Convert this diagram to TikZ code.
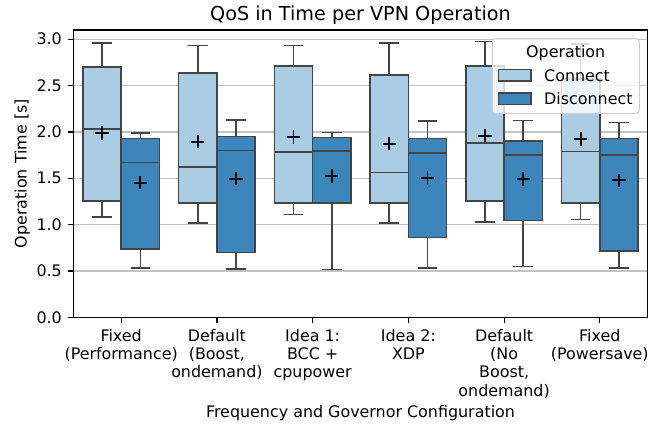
\documentclass[tikz,border=0pt]{standalone}
\usepackage{fontspec}
\setmainfont{DejaVu Sans}
\definecolor{cLight}{HTML}{ABCDE3}
\definecolor{cDark}{HTML}{3C86BC}
\definecolor{cEdge}{HTML}{454545}
\definecolor{cGrid}{HTML}{C2C2C2}
\definecolor{cLegEdge}{HTML}{D0D0D0}
\newcommand{\pYz}{317.3}
\newcommand{\pYs}{92.7}
% #1 centre x, #2 whisker low, #3 q1, #4 median, #5 q3, #6 whisker high, #7 mean, #8 fill
\newcommand{\onebox}[8]{%
  \draw[edgeline] (#1,{\pYz-\pYs*#2}) -- (#1,{\pYz-\pYs*#3});
  \draw[edgeline] (#1,{\pYz-\pYs*#5}) -- (#1,{\pYz-\pYs*#6});
  \draw[edgeline] ({#1-9.8},{\pYz-\pYs*#2}) -- ({#1+9.8},{\pYz-\pYs*#2});
  \draw[edgeline] ({#1-9.8},{\pYz-\pYs*#6}) -- ({#1+9.8},{\pYz-\pYs*#6});
  \draw[edgeline,fill=#8] ({#1-19.15},{\pYz-\pYs*#3}) rectangle ({#1+19.15},{\pYz-\pYs*#5});
  \draw[edgeline] ({#1-19.15},{\pYz-\pYs*#4}) -- ({#1+19.15},{\pYz-\pYs*#4});
  \draw[meanmark] ({#1-6.7},{\pYz-\pYs*#7}) -- ({#1+6.7},{\pYz-\pYs*#7})
                  (#1,{\pYz-\pYs*#7-6.7}) -- (#1,{\pYz-\pYs*#7+6.7});
}
\begin{document}
\begin{tikzpicture}[x=1pt,y=-1pt,
  edgeline/.style={draw=cEdge,line width=1.6pt},
  meanmark/.style={draw=black,line width=1.8pt},
  gridline/.style={draw=cGrid,line width=1.2pt},
  spine/.style={draw=black,line width=1.2pt},
  ticklab/.style={font=\fontsize{15.9pt}{18.4pt}\selectfont,inner sep=0pt},
  xticklab/.style={ticklab,anchor=north,align=center},
  yticklab/.style={ticklab,anchor=east},
  axlab/.style={font=\fontsize{15.9pt}{18.4pt}\selectfont,inner sep=0pt,anchor=base},
  titlelab/.style={font=\fontsize{19.2pt}{22pt}\selectfont,inner sep=0pt,anchor=base},
  legtext/.style={font=\fontsize{15.9pt}{18.4pt}\selectfont,inner sep=0pt}]
\useasboundingbox (0,0) rectangle (660,423);
\fill[white] (0,0) rectangle (660,423);

% grid
\foreach \v in {0.5,1.0,1.5,2.0,2.5,3.0}
  \draw[gridline] (73.3,{\pYz-\pYs*\v}) -- (647.7,{\pYz-\pYs*\v});

% boxes
\onebox{102.02}{1.08}{1.255}{2.03}{2.70}{2.96}{1.99}{cLight}
\onebox{140.32}{0.535}{0.74}{1.668}{1.93}{1.985}{1.452}{cDark}
\onebox{197.75}{1.02}{1.233}{1.62}{2.635}{2.93}{1.895}{cLight}
\onebox{236.05}{0.52}{0.70}{1.80}{1.95}{2.13}{1.495}{cDark}
\onebox{293.48}{1.11}{1.236}{1.783}{2.714}{2.93}{1.945}{cLight}
\onebox{331.78}{0.517}{1.236}{1.794}{1.94}{1.995}{1.524}{cDark}
\onebox{389.22}{1.02}{1.233}{1.564}{2.614}{2.96}{1.873}{cLight}
\onebox{427.52}{0.535}{0.859}{1.77}{1.93}{2.12}{1.503}{cDark}
\onebox{484.95}{1.03}{1.255}{1.883}{2.71}{2.977}{1.96}{cLight}
\onebox{523.25}{0.546}{1.046}{1.75}{1.905}{2.125}{1.49}{cDark}
\onebox{580.68}{1.057}{1.236}{1.79}{2.57}{2.945}{1.923}{cLight}
\onebox{618.98}{0.535}{0.718}{1.754}{1.927}{2.10}{1.478}{cDark}

% axes
\draw[spine] (73.3,30) rectangle (647.7,317.3);
\foreach \x in {121.17,216.9,312.63,408.37,504.1,599.83}
  \draw[spine] (\x,317.3) -- (\x,322.5);
\foreach \v/\t in {0/0.0,0.5/0.5,1/1.0,1.5/1.5,2/2.0,2.5/2.5,3/3.0}{
  \draw[spine] (68,{\pYz-\pYs*\v}) -- (73.3,{\pYz-\pYs*\v});
  \node[yticklab] (yt\v) at (62,{\pYz-\pYs*\v}) {\t};
}

% x tick labels
\node[xticklab] (xt1) at (121.17,328) {\strut Fixed\\\strut(Performance)};
\node[xticklab] (xt2) at (216.9,328) {\strut Default\\\strut(Boost,\\\strut ondemand)};
\node[xticklab] (xt3) at (312.63,328) {\strut Idea 1:\\\strut BCC +\\\strut cpupower};
\node[xticklab] (xt4) at (408.37,328) {\strut Idea 2:\\\strut XDP};
\node[xticklab] (xt5) at (504.1,328) {\strut Default\\\strut(No\\\strut Boost,\\\strut ondemand)};
\node[xticklab] (xt6) at (599.83,328) {\strut Fixed\\\strut(Powersave)};

% labels
\node[titlelab] (title) at (360.5,20.7) {QoS in Time per VPN Operation};
\node[axlab] (xlab) at (360.5,417) {Frequency and Governor Configuration};
\node[axlab,rotate=90] (ylab) at (26.5,173.7) {Operation Time [s]};

% legend
\draw[draw=cLegEdge,line width=1pt,fill=white,fill opacity=0.8,rounded corners=3pt]
  (492.3,38.7) rectangle (639.3,113.3);
\draw[edgeline,fill=cLight] (498.3,69.3) rectangle (530.7,81);
\draw[edgeline,fill=cDark] (498.3,92.7) rectangle (530.7,104.3);
\node[legtext,anchor=base] (legtitle) at (565.7,57.3) {Operation};
\node[legtext,anchor=base west] (legc) at (544,81.2) {Connect};
\node[legtext,anchor=base west] (legd) at (544,104.5) {Disconnect};
\end{tikzpicture}
\end{document}
